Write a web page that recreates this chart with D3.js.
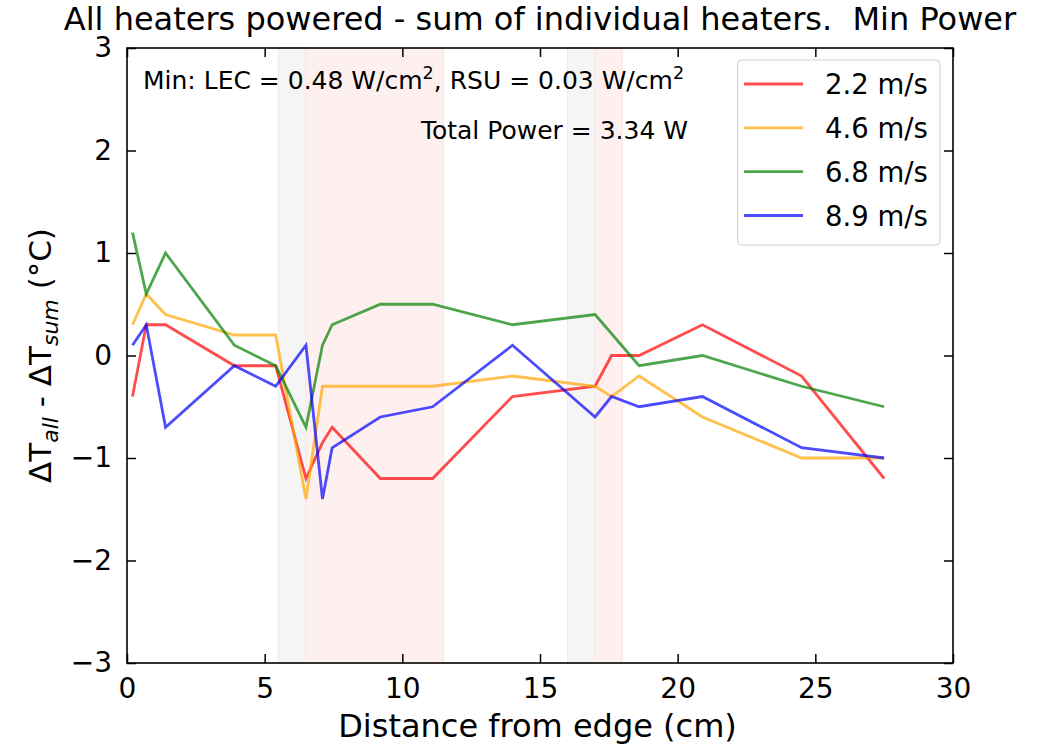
<!DOCTYPE html>
<html><head><meta charset="utf-8">
<script src="https://cdn.jsdelivr.net/npm/d3@7"></script>
<style>
body{margin:0;background:#fff;}
text{font-family:"DejaVu Sans",sans-serif;fill:#000;}
</style></head><body>
<svg id="chart" width="1042" height="744"></svg>
<script>
// ---- data ----
const seriesLabels = ["2.2 m/s", "4.6 m/s", "6.8 m/s", "8.9 m/s"];
const seriesColors = ["red", "orange", "green", "blue"];
const xRed    = [0.2, 0.7, 1.4, 3.9, 5.4, 6.5, 7.1, 7.45, 9.2, 11.1, 14.0, 17.0, 17.6, 18.6, 20.9, 24.5, 27.5];
const yRed    = [-0.4, 0.3, 0.3, -0.1, -0.1, -1.2, -0.85, -0.7, -1.2, -1.2, -0.4, -0.3, 0.0, 0.0, 0.3, -0.2, -1.2];
const xOrange = [0.2, 0.7, 1.4, 3.9, 5.4, 6.5, 7.1, 7.45, 9.2, 11.1, 14.0, 17.0, 17.6, 18.6, 20.9, 24.5, 27.5];
const yOrange = [0.3, 0.6, 0.4, 0.2, 0.2, -1.4, -0.3, -0.3, -0.3, -0.3, -0.2, -0.3, -0.4, -0.2, -0.6, -1.0, -1.0];
const xGreen  = [0.2, 0.7, 1.4, 3.9, 5.4, 6.5, 7.1, 7.45, 9.2, 11.1, 14.0, 17.0, 18.6, 20.9, 24.5, 27.5];
const yGreen  = [1.2, 0.6, 1.0, 0.1, -0.1, -0.7, 0.1, 0.3, 0.5, 0.5, 0.3, 0.4, -0.1, 0.0, -0.3, -0.5];
const xBlue   = [0.2, 0.7, 1.4, 3.9, 5.4, 6.5, 7.1, 7.45, 9.2, 11.1, 14.0, 17.0, 17.6, 18.6, 20.9, 24.5, 27.5];
const yBlue   = [0.1, 0.3, -0.7, -0.1, -0.3, 0.1, -1.4, -0.9, -0.6, -0.5, 0.1, -0.6, -0.4, -0.5, -0.4, -0.9, -1.0];
const greySpans = [[5.5, 6.5], [16.0, 17.0]];
const pinkSpans = [[6.5, 11.5], [17.0, 18.0]];
const xTicks = [0, 5, 10, 15, 20, 25, 30];
const yTicks = [-3, -2, -1, 0, 1, 2, 3];

const seriesX = [xRed, xOrange, xGreen, xBlue];
const seriesY = [yRed, yOrange, yGreen, yBlue];

// ---- layout ----
const svg = d3.select("#chart");
const L = 127, R = 953, T = 48, B = 663;
const x = d3.scaleLinear().domain([0, 30]).range([L, R]);
const y = d3.scaleLinear().domain([-3, 3]).range([B, T]);

// shaded spans
svg.append("g").selectAll("rect").data(greySpans).join("rect")
  .attr("x", d => x(d[0])).attr("width", d => x(d[1]) - x(d[0]))
  .attr("y", T).attr("height", B - T)
  .attr("fill", "#f5f5f5").attr("stroke", "#ececec").attr("stroke-width", 1);
svg.append("g").selectAll("rect").data(pinkSpans).join("rect")
  .attr("x", d => x(d[0])).attr("width", d => x(d[1]) - x(d[0]))
  .attr("y", T).attr("height", B - T)
  .attr("fill", "#fff0f0").attr("stroke", "#fde6e6").attr("stroke-width", 1);

// lines
const line = d3.line().x(d => x(d[0])).y(d => y(d[1]));
seriesX.forEach((xs, i) => {
  const pts = xs.map((v, j) => [v, seriesY[i][j]]);
  svg.append("path").datum(pts).attr("d", line)
    .attr("fill", "none").attr("stroke", seriesColors[i])
    .attr("stroke-opacity", 0.7).attr("stroke-width", 2.8)
    .attr("stroke-linejoin", "miter");
});

// axes (ticks inward on all sides)
const fmt = d => String(d).replace("-", "\u2212");
const tl = 9;
const ax = svg.append("g");
ax.append("g").attr("transform", `translate(0,${B})`)
  .call(d3.axisBottom(x).tickValues(xTicks).tickSizeInner(-tl).tickSizeOuter(0).tickPadding(tl + 6).tickFormat(fmt));
ax.append("g").attr("transform", `translate(0,${T})`)
  .call(d3.axisTop(x).tickValues(xTicks).tickSizeInner(-tl).tickSizeOuter(0).tickFormat(""));
ax.append("g").attr("transform", `translate(${L},0)`)
  .call(d3.axisLeft(y).tickValues(yTicks).tickSizeInner(-tl).tickSizeOuter(0).tickPadding(tl + 6).tickFormat(fmt));
ax.append("g").attr("transform", `translate(${R},0)`)
  .call(d3.axisRight(y).tickValues(yTicks).tickSizeInner(-tl).tickSizeOuter(0).tickFormat(""));
ax.selectAll(".domain").remove();
ax.selectAll(".tick line").attr("stroke", "#000").attr("stroke-width", 1.5);
ax.selectAll(".tick text").style("font-family", "DejaVu Sans").style("font-size", "28px").attr("fill", "#000");
svg.append("rect").attr("x", L).attr("y", T).attr("width", R - L).attr("height", B - T)
  .attr("fill", "none").attr("stroke", "#000").attr("stroke-width", 1.6);

// title and labels
svg.append("text").attr("x", (L + R) / 2).attr("y", 30).attr("text-anchor", "middle")
  .style("font-size", "32px").style("white-space", "pre")
  .text("All heaters powered - sum of individual heaters.  Min Power");
svg.append("text").attr("x", 537.5).attr("y", 737).attr("text-anchor", "middle")
  .style("font-size", "32px").text("Distance from edge (cm)");
const yl = svg.append("text").attr("transform", `translate(51,${(T + B) / 2}) rotate(-90)`)
  .attr("text-anchor", "middle").style("font-size", "31px");
yl.append("tspan").text("\u0394T");
yl.append("tspan").attr("font-style", "italic").attr("dy", 7).style("font-size", "22px").text("all");
yl.append("tspan").attr("dy", -7).text(" - \u0394T");
yl.append("tspan").attr("font-style", "italic").attr("dy", 7).style("font-size", "22px").text("sum");
yl.append("tspan").attr("dy", -7).text(" (\u00B0C)");

// annotations
const a1 = svg.append("text").attr("x", 143).attr("y", 89).style("font-size", "25px");
a1.append("tspan").text("Min: LEC = 0.48 W/cm");
a1.append("tspan").attr("dy", -10).style("font-size", "17.5px").text("2");
a1.append("tspan").attr("dy", 10).text(", RSU = 0.03 W/cm");
a1.append("tspan").attr("dy", -10).style("font-size", "17.5px").text("2");
svg.append("text").attr("x", 688).attr("y", 139).attr("text-anchor", "end")
  .style("font-size", "25px").text("Total Power = 3.34 W");

// legend
const lg = svg.append("g");
lg.append("rect").attr("x", 737.5).attr("y", 60).attr("width", 202.5).attr("height", 185)
  .attr("rx", 4).attr("fill", "#fff").attr("fill-opacity", 0.8).attr("stroke", "#d0d0d0").attr("stroke-width", 1);
const rowY = d3.scaleLinear().domain([0, 3]).range([84, 215.5]);
seriesLabels.forEach((lab, i) => {
  lg.append("line").attr("x1", 744).attr("x2", 803).attr("y1", rowY(i)).attr("y2", rowY(i))
    .attr("stroke", seriesColors[i]).attr("stroke-opacity", 0.7).attr("stroke-width", 2.8);
  lg.append("text").attr("x", 825).attr("y", rowY(i) + 10).style("font-size", "27.5px").text(lab);
});
</script>
</body></html>
